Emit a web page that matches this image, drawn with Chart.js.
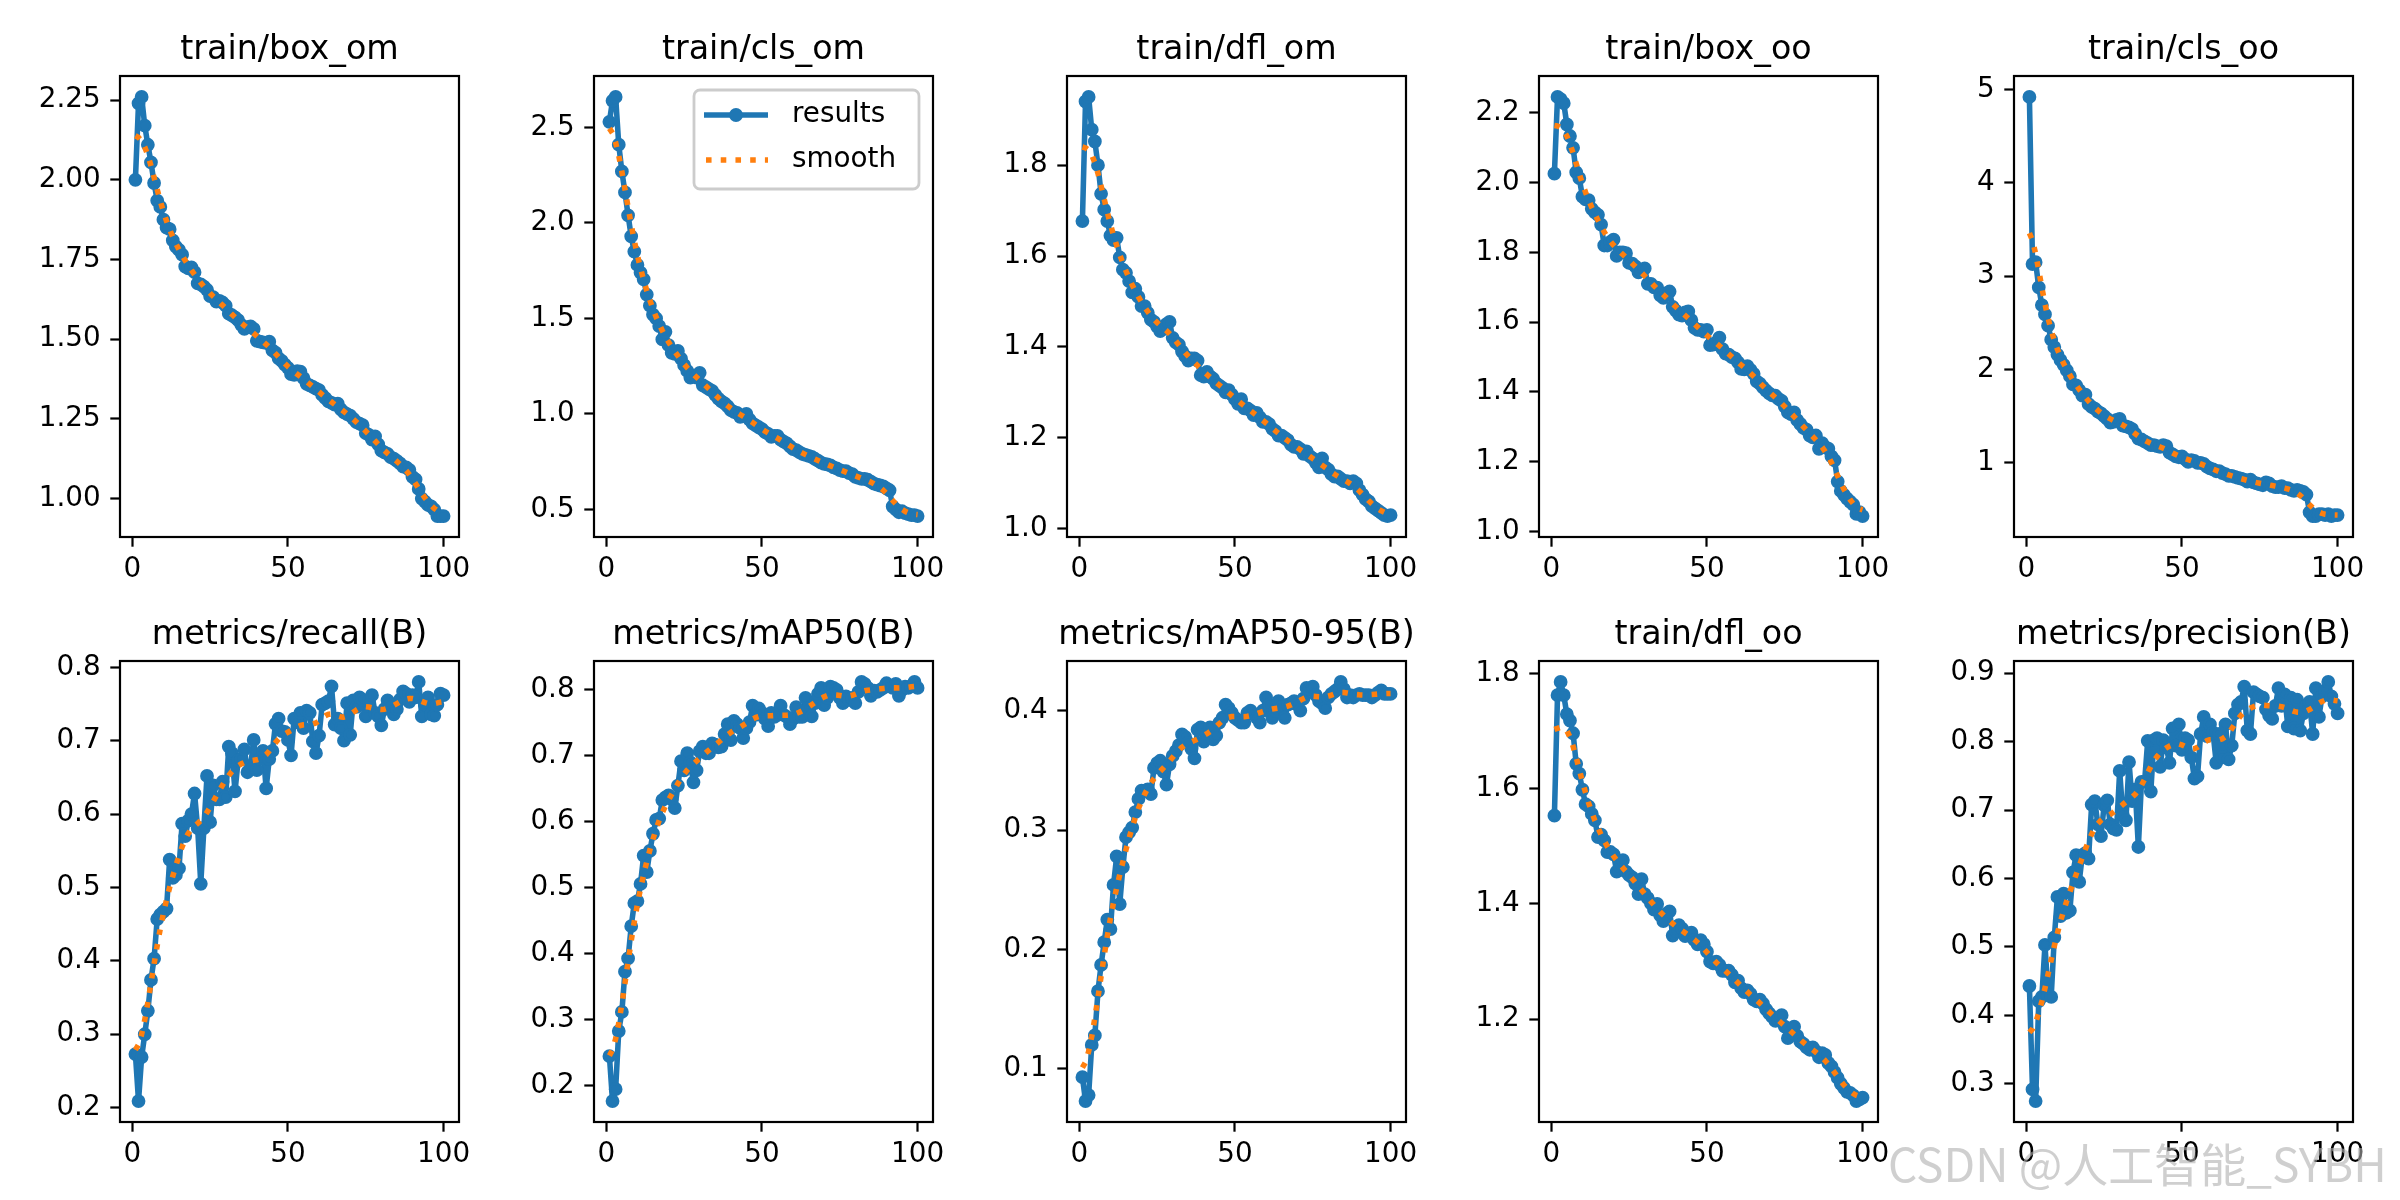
<!DOCTYPE html>
<html>
<head>
<meta charset="utf-8">
<title>results</title>
<script src="https://cdn.jsdelivr.net/npm/chart.js@4.4.0/dist/chart.umd.min.js"></script>
<style>
  html, body { margin: 0; padding: 0; background: #fff; }
  #figure { position: relative; width: 2400px; height: 1200px; overflow: hidden; background: #fff; }
  #figure canvas { position: absolute; }
  #watermark {
    position: absolute; left: 1888px; top: 1139px; z-index: 5;
    font-family: "Noto Sans CJK SC"; font-size: 46px; line-height: 46px;
    color: rgba(175, 175, 175, 0.6); white-space: nowrap;
  }
</style>
</head>
<body>
<div id="figure">
  <div id="watermark">CSDN @人工智能_SYBH</div>
</div>
<script>
// epochs 1..100 shared by every panel
const epochs = Array.from({ length: 100 }, (_, i) => i + 1);
const xTicks = [0, 50, 100];

const boxOm = [2.00, 2.24, 2.26, 2.17, 2.11, 2.055, 1.99, 1.935, 1.915, 1.875,
  1.85, 1.845, 1.81, 1.79, 1.78, 1.765, 1.728, 1.722, 1.725, 1.71,
  1.675, 1.672, 1.665, 1.655, 1.635, 1.632, 1.618, 1.62, 1.615, 1.605,
  1.58, 1.575, 1.568, 1.56, 1.545, 1.532, 1.538, 1.54, 1.532, 1.495,
  1.492, 1.49, 1.488, 1.492, 1.465, 1.458, 1.44, 1.432, 1.42, 1.41,
  1.39, 1.388, 1.40, 1.398, 1.378, 1.36, 1.355, 1.35, 1.345, 1.34,
  1.325, 1.315, 1.305, 1.30, 1.295, 1.298, 1.28, 1.27, 1.265, 1.26,
  1.25, 1.24, 1.235, 1.23, 1.205, 1.20, 1.185, 1.195, 1.17, 1.15,
  1.145, 1.14, 1.13, 1.125, 1.118, 1.11, 1.10, 1.098, 1.09, 1.068,
  1.06, 1.03, 1.00, 0.99, 0.98, 0.975, 0.965, 0.945, 0.945, 0.945];
const boxOmTicks = ['1.00', '1.25', '1.50', '1.75', '2.00', '2.25'];

const clsOm = [2.53, 2.64, 2.66, 2.41, 2.27, 2.16, 2.04, 1.93, 1.85, 1.78,
  1.74, 1.705, 1.625, 1.567, 1.52, 1.50, 1.46, 1.39, 1.43, 1.36,
  1.32, 1.315, 1.33, 1.29, 1.255, 1.225, 1.19, 1.20, 1.19, 1.215,
  1.15, 1.14, 1.13, 1.12, 1.10, 1.08, 1.065, 1.055, 1.04, 1.02,
  1.01, 1.005, 0.985, 0.99, 1.00, 0.97, 0.95, 0.94, 0.93, 0.92,
  0.905, 0.895, 0.88, 0.885, 0.885, 0.865, 0.855, 0.845, 0.83, 0.815,
  0.81, 0.80, 0.79, 0.785, 0.78, 0.775, 0.765, 0.755, 0.745, 0.738,
  0.735, 0.73, 0.72, 0.715, 0.705, 0.70, 0.70, 0.69, 0.685, 0.67,
  0.665, 0.66, 0.66, 0.655, 0.645, 0.635, 0.63, 0.625, 0.62, 0.61,
  0.60, 0.515, 0.50, 0.485, 0.49, 0.48, 0.475, 0.47, 0.47, 0.465];
const clsOmTicks = ['0.5', '1.0', '1.5', '2.0', '2.5'];

const dflOm = [1.677, 1.94, 1.95, 1.878, 1.852, 1.80, 1.737, 1.702, 1.677, 1.645,
  1.635, 1.64, 1.597, 1.57, 1.563, 1.545, 1.52, 1.528, 1.51, 1.49,
  1.49, 1.475, 1.46, 1.455, 1.445, 1.435, 1.44, 1.45, 1.455, 1.42,
  1.41, 1.405, 1.39, 1.38, 1.37, 1.375, 1.375, 1.37, 1.338, 1.335,
  1.345, 1.335, 1.33, 1.32, 1.315, 1.31, 1.30, 1.305, 1.295, 1.285,
  1.275, 1.285, 1.265, 1.265, 1.26, 1.25, 1.255, 1.245, 1.235, 1.235,
  1.23, 1.22, 1.215, 1.205, 1.205, 1.20, 1.195, 1.185, 1.18, 1.18,
  1.175, 1.165, 1.17, 1.16, 1.155, 1.145, 1.135, 1.155, 1.135, 1.13,
  1.12, 1.115, 1.115, 1.11, 1.105, 1.105, 1.10, 1.105, 1.10, 1.085,
  1.075, 1.065, 1.06, 1.05, 1.045, 1.04, 1.035, 1.03, 1.028, 1.03];
const dflOmTicks = ['1.0', '1.2', '1.4', '1.6', '1.8'];

const boxOo = [2.026, 2.246, 2.24, 2.228, 2.167, 2.134, 2.10, 2.03, 2.013, 1.96,
  1.952, 1.95, 1.925, 1.915, 1.908, 1.88, 1.82, 1.82, 1.83, 1.837,
  1.79, 1.80, 1.80, 1.798, 1.77, 1.768, 1.76, 1.743, 1.749, 1.754,
  1.71, 1.71, 1.70, 1.699, 1.677, 1.67, 1.683, 1.688, 1.644, 1.633,
  1.622, 1.619, 1.628, 1.631, 1.606, 1.584, 1.578, 1.578, 1.573, 1.578,
  1.534, 1.536, 1.542, 1.556, 1.523, 1.51, 1.507, 1.50, 1.496, 1.485,
  1.466, 1.465, 1.474, 1.463, 1.452, 1.43, 1.424, 1.413, 1.404, 1.396,
  1.39, 1.389, 1.38, 1.374, 1.358, 1.341, 1.336, 1.341, 1.319, 1.308,
  1.297, 1.292, 1.275, 1.27, 1.275, 1.237, 1.253, 1.242, 1.237, 1.215,
  1.204, 1.143, 1.116, 1.105, 1.094, 1.085, 1.077, 1.05, 1.055, 1.044];
const boxOoTicks = ['1.0', '1.2', '1.4', '1.6', '1.8', '2.0', '2.2'];

const clsOo = [4.92, 3.13, 3.15, 2.88, 2.69, 2.59, 2.47, 2.32, 2.24, 2.16,
  2.10, 2.05, 1.99, 1.93, 1.84, 1.83, 1.78, 1.72, 1.73, 1.63,
  1.60, 1.58, 1.55, 1.53, 1.50, 1.47, 1.43, 1.44, 1.46, 1.47,
  1.40, 1.39, 1.38, 1.36, 1.31, 1.26, 1.25, 1.23, 1.21, 1.19,
  1.19, 1.18, 1.17, 1.19, 1.18, 1.11, 1.09, 1.07, 1.06, 1.07,
  1.04, 1.01, 1.03, 1.02, 1.00, 1.00, 0.99, 0.96, 0.94, 0.93,
  0.91, 0.91, 0.89, 0.88, 0.86, 0.86, 0.85, 0.84, 0.83, 0.82,
  0.80, 0.82, 0.79, 0.78, 0.77, 0.76, 0.79, 0.78, 0.75, 0.74,
  0.74, 0.75, 0.73, 0.73, 0.71, 0.70, 0.71, 0.70, 0.69, 0.66,
  0.47, 0.43, 0.43, 0.45, 0.45, 0.44, 0.45, 0.43, 0.44, 0.44];
const clsOoTicks = ['1', '2', '3', '4', '5'];

const recall = [0.273, 0.209, 0.269, 0.30, 0.332, 0.374, 0.403, 0.457, 0.463, 0.467,
  0.471, 0.538, 0.513, 0.517, 0.526, 0.587, 0.57, 0.591, 0.60, 0.628,
  0.581, 0.505, 0.581, 0.652, 0.589, 0.639, 0.62, 0.62, 0.644, 0.623,
  0.692, 0.683, 0.631, 0.673, 0.675, 0.688, 0.657, 0.665, 0.701, 0.66,
  0.675, 0.686, 0.635, 0.675, 0.686, 0.723, 0.73, 0.713, 0.712, 0.701,
  0.68, 0.73, 0.725, 0.738, 0.717, 0.741, 0.738, 0.699, 0.683, 0.707,
  0.749, 0.751, 0.754, 0.774, 0.722, 0.73, 0.717, 0.70, 0.751, 0.708,
  0.755, 0.746, 0.759, 0.756, 0.733, 0.754, 0.762, 0.738, 0.733, 0.721,
  0.743, 0.755, 0.749, 0.736, 0.743, 0.756, 0.767, 0.764, 0.753, 0.762,
  0.759, 0.78, 0.733, 0.749, 0.759, 0.736, 0.734, 0.749, 0.764, 0.762];
const recallTicks = ['0.2', '0.3', '0.4', '0.5', '0.6', '0.7', '0.8'];

const map50 = [0.245, 0.177, 0.195, 0.283, 0.312, 0.373, 0.393, 0.442, 0.477, 0.48,
  0.506, 0.549, 0.524, 0.556, 0.582, 0.603, 0.605, 0.633, 0.637, 0.64,
  0.634, 0.621, 0.655, 0.692, 0.678, 0.704, 0.69, 0.66, 0.678, 0.707,
  0.714, 0.704, 0.704, 0.719, 0.717, 0.713, 0.714, 0.733, 0.748, 0.724,
  0.753, 0.748, 0.742, 0.727, 0.742, 0.751, 0.776, 0.762, 0.772, 0.765,
  0.756, 0.745, 0.765, 0.759, 0.762, 0.776, 0.762, 0.759, 0.748, 0.756,
  0.774, 0.759, 0.759, 0.788, 0.772, 0.76, 0.78, 0.794, 0.803, 0.777,
  0.788, 0.805, 0.803, 0.80, 0.788, 0.78, 0.79, 0.785, 0.788, 0.78,
  0.797, 0.812, 0.809, 0.803, 0.791, 0.799, 0.797, 0.80, 0.803, 0.81,
  0.806, 0.803, 0.809, 0.791, 0.80, 0.805, 0.803, 0.806, 0.812, 0.803];
const map50Ticks = ['0.2', '0.3', '0.4', '0.5', '0.6', '0.7', '0.8'];

const map5095 = [0.093, 0.073, 0.078, 0.12, 0.128, 0.165, 0.187, 0.206, 0.225, 0.217,
  0.254, 0.278, 0.238, 0.269, 0.294, 0.298, 0.302, 0.315, 0.326, 0.333,
  0.333, 0.334, 0.33, 0.352, 0.356, 0.358, 0.349, 0.338, 0.355, 0.362,
  0.366, 0.371, 0.38, 0.378, 0.373, 0.368, 0.36, 0.384, 0.386, 0.374,
  0.381, 0.386, 0.376, 0.379, 0.39, 0.394, 0.405, 0.402, 0.398, 0.394,
  0.392, 0.39, 0.39, 0.398, 0.40, 0.397, 0.394, 0.39, 0.40, 0.411,
  0.405, 0.394, 0.40, 0.408, 0.403, 0.394, 0.405, 0.406, 0.408, 0.405,
  0.40, 0.41, 0.419, 0.418, 0.42, 0.413, 0.408, 0.406, 0.402, 0.411,
  0.414, 0.416, 0.418, 0.424, 0.418, 0.411, 0.413, 0.411, 0.413, 0.414,
  0.413, 0.413, 0.413, 0.411, 0.413, 0.415, 0.417, 0.414, 0.414, 0.414];
const map5095Ticks = ['0.1', '0.2', '0.3', '0.4'];

const dflOo = [1.553, 1.762, 1.785, 1.762, 1.729, 1.718, 1.696, 1.643, 1.626, 1.598,
  1.573, 1.569, 1.556, 1.545, 1.516, 1.52, 1.51, 1.49, 1.49, 1.486,
  1.456, 1.466, 1.476, 1.456, 1.45, 1.446, 1.435, 1.417, 1.443, 1.417,
  1.41, 1.401, 1.39, 1.40, 1.38, 1.37, 1.383, 1.387, 1.345, 1.353,
  1.363, 1.357, 1.344, 1.347, 1.35, 1.337, 1.33, 1.337, 1.33, 1.317,
  1.30, 1.297, 1.30, 1.294, 1.284, 1.284, 1.284, 1.277, 1.264, 1.267,
  1.254, 1.247, 1.25, 1.244, 1.234, 1.231, 1.234, 1.227, 1.217, 1.21,
  1.204, 1.197, 1.20, 1.207, 1.187, 1.167, 1.177, 1.187, 1.171, 1.161,
  1.157, 1.151, 1.147, 1.151, 1.144, 1.134, 1.141, 1.138, 1.124, 1.118,
  1.108, 1.098, 1.088, 1.081, 1.074, 1.072, 1.068, 1.058, 1.061, 1.064];
const dflOoTicks = ['1.2', '1.4', '1.6', '1.8'];

const precision = [0.443, 0.292, 0.275, 0.421, 0.427, 0.503, 0.43, 0.427, 0.514, 0.573,
  0.545, 0.578, 0.55, 0.553, 0.609, 0.634, 0.595, 0.634, 0.637, 0.629,
  0.708, 0.713, 0.679, 0.662, 0.707, 0.714, 0.679, 0.673, 0.671, 0.757,
  0.693, 0.685, 0.77, 0.713, 0.73, 0.646, 0.741, 0.741, 0.801, 0.727,
  0.802, 0.805, 0.763, 0.802, 0.791, 0.769, 0.819, 0.794, 0.825, 0.788,
  0.805, 0.802, 0.777, 0.746, 0.749, 0.811, 0.836, 0.808, 0.825, 0.813,
  0.769, 0.811, 0.777, 0.825, 0.774, 0.794, 0.841, 0.854, 0.858, 0.88,
  0.816, 0.811, 0.872, 0.869, 0.866, 0.864, 0.847, 0.838, 0.833, 0.852,
  0.878, 0.852, 0.869, 0.822, 0.864, 0.819, 0.861, 0.816, 0.841, 0.852,
  0.858, 0.811, 0.878, 0.836, 0.866, 0.874, 0.887, 0.866, 0.855, 0.841];
const precisionTicks = ['0.3', '0.4', '0.5', '0.6', '0.7', '0.8', '0.9'];

// panel order, left to right, top row first
const panels = [
  { title: 'train/box_om', values: boxOm, ticks: boxOmTicks },
  { title: 'train/cls_om', values: clsOm, ticks: clsOmTicks, legend: true },
  { title: 'train/dfl_om', values: dflOm, ticks: dflOmTicks },
  { title: 'train/box_oo', values: boxOo, ticks: boxOoTicks },
  { title: 'train/cls_oo', values: clsOo, ticks: clsOoTicks },
  { title: 'metrics/recall(B)', values: recall, ticks: recallTicks },
  { title: 'metrics/mAP50(B)', values: map50, ticks: map50Ticks },
  { title: 'metrics/mAP50-95(B)', values: map5095, ticks: map5095Ticks },
  { title: 'train/dfl_oo', values: dflOo, ticks: dflOoTicks },
  { title: 'metrics/precision(B)', values: precision, ticks: precisionTicks }
];

// layout (px) for the 2400x1200 figure
const COL_LEFT = [120, 594, 1067, 1539, 2014];
const ROW_TOP = [76, 661];
const AX_W = 339, AX_H = 461;
const Y_AXIS_W = 110, X_AXIS_H = 60, TOP_PAD = 60, RIGHT_PAD = 40;

const BLUE = '#1f77b4';
const ORANGE = '#ff7f0e';
const LW = 5.56;            // 2pt at 200 dpi
const SPINE_W = 2.2;
const FONT = 'DejaVu Sans';
const TICK_FONT = { family: FONT, size: 27.8 };

// same smoothing the training plot uses: gaussian, sigma 3, reflected edges
function gaussianSmooth(values, sigma) {
  const radius = Math.round(4 * sigma);
  const weights = [];
  let sum = 0;
  for (let k = -radius; k <= radius; k++) {
    const w = Math.exp(-0.5 * (k / sigma) * (k / sigma));
    weights.push(w);
    sum += w;
  }
  const n = values.length;
  return values.map((_, i) => {
    let acc = 0;
    for (let k = -radius; k <= radius; k++) {
      let j = i + k;
      if (j < 0) j = -j - 1;
      if (j >= n) j = 2 * n - j - 1;
      acc += values[j] * weights[k + radius];
    }
    return acc / sum;
  });
}

function drawLegend(ctx, a) {
  const w = 225, h = 99;
  const x = a.right - 14 - w, y = a.top + 14;
  const r = 6;
  ctx.beginPath();
  ctx.moveTo(x + r, y);
  ctx.arcTo(x + w, y, x + w, y + h, r);
  ctx.arcTo(x + w, y + h, x, y + h, r);
  ctx.arcTo(x, y + h, x, y, r);
  ctx.arcTo(x, y, x + w, y, r);
  ctx.closePath();
  ctx.fillStyle = 'rgba(255,255,255,0.8)';
  ctx.fill();
  ctx.lineWidth = 2.8;
  ctx.strokeStyle = '#cccccc';
  ctx.stroke();

  const hx0 = x + 10, hx1 = x + 74;
  const row1 = y + 25, row2 = y + 70;
  // results handle
  ctx.setLineDash([]);
  ctx.lineCap = 'butt';
  ctx.strokeStyle = BLUE;
  ctx.lineWidth = LW;
  ctx.beginPath();
  ctx.moveTo(hx0, row1);
  ctx.lineTo(hx1, row1);
  ctx.stroke();
  ctx.fillStyle = BLUE;
  ctx.beginPath();
  ctx.arc((hx0 + hx1) / 2, row1, 6.9, 0, Math.PI * 2);
  ctx.fill();
  // smooth handle
  ctx.strokeStyle = ORANGE;
  ctx.setLineDash([5.56, 9.17]);
  ctx.beginPath();
  ctx.moveTo(hx0 + 2, row2);
  ctx.lineTo(hx1, row2);
  ctx.stroke();
  ctx.setLineDash([]);

  ctx.fillStyle = '#000';
  ctx.font = '27.8px "' + FONT + '"';
  ctx.textAlign = 'left';
  ctx.textBaseline = 'middle';
  ctx.fillText('results', x + 98, row1);
  ctx.fillText('smooth', x + 98, row2);
}

const panelFrame = {
  id: 'panelFrame',
  afterDraw(chart, args, opts) {
    const ctx = chart.ctx;
    const a = chart.chartArea;
    ctx.save();
    ctx.strokeStyle = '#000';
    ctx.lineWidth = SPINE_W;
    ctx.strokeRect(a.left, a.top, a.right - a.left, a.bottom - a.top);
    ctx.fillStyle = '#000';
    ctx.font = '33.3px "' + FONT + '"';
    ctx.textAlign = 'center';
    ctx.textBaseline = 'alphabetic';
    ctx.fillText(opts.title, (a.left + a.right) / 2, a.top - 16.7);
    if (opts.legend) drawLegend(ctx, a);
    ctx.restore();
  }
};

const fig = document.getElementById('figure');
const xSpan = epochs[epochs.length - 1] - epochs[0];
const xMin = epochs[0] - 0.05 * xSpan;
const xMax = epochs[epochs.length - 1] + 0.05 * xSpan;

panels.forEach((p, idx) => {
  const col = idx % 5, row = Math.floor(idx / 5);
  const w = Y_AXIS_W + AX_W + RIGHT_PAD;
  const h = TOP_PAD + AX_H + X_AXIS_H;
  const canvas = document.createElement('canvas');
  canvas.width = w;
  canvas.height = h;
  canvas.style.width = w + 'px';
  canvas.style.height = h + 'px';
  canvas.style.left = (COL_LEFT[col] - Y_AXIS_W) + 'px';
  canvas.style.top = (ROW_TOP[row] - TOP_PAD) + 'px';
  fig.insertBefore(canvas, fig.firstChild);

  const lo = Math.min(...p.values), hi = Math.max(...p.values);
  const pad = (hi - lo) * 0.05;
  const smooth = gaussianSmooth(p.values, 3);
  const tickValues = p.ticks.map(Number);

  const axisCommon = {
    type: 'linear',
    bounds: 'data',
    border: { display: false },
    grid: { display: true, drawOnChartArea: false, drawTicks: true, tickLength: 9.7, tickWidth: SPINE_W, tickColor: '#000' }
  };

  new Chart(canvas, {
    type: 'line',
    data: {
      datasets: [
        {
          label: 'results',
          data: epochs.map((e, i) => ({ x: e, y: p.values[i] })),
          borderColor: BLUE,
          backgroundColor: BLUE,
          borderWidth: LW,
          borderJoinStyle: 'round',
          borderCapStyle: 'round',
          pointRadius: 5.5,
          pointBorderWidth: 2.8,
          pointBackgroundColor: BLUE,
          pointBorderColor: BLUE,
          tension: 0,
          order: 1
        },
        {
          label: 'smooth',
          data: epochs.map((e, i) => ({ x: e, y: smooth[i] })),
          borderColor: ORANGE,
          borderWidth: LW,
          borderDash: [5.56, 9.17],
          borderCapStyle: 'butt',
          borderJoinStyle: 'round',
          pointRadius: 0,
          tension: 0,
          order: 0
        }
      ]
    },
    options: {
      responsive: false,
      animation: false,
      devicePixelRatio: 1,
      events: [],
      layout: { padding: { top: TOP_PAD, right: RIGHT_PAD, left: 0, bottom: 0 } },
      scales: {
        x: Object.assign({}, axisCommon, {
          min: xMin,
          max: xMax,
          afterBuildTicks: s => { s.ticks = xTicks.map(v => ({ value: v })); },
          afterFit: s => { s.height = X_AXIS_H; },
          ticks: { color: '#000', font: TICK_FONT, padding: 6, maxRotation: 0, autoSkip: false, callback: v => String(v) }
        }),
        y: Object.assign({}, axisCommon, {
          min: lo - pad,
          max: hi + pad,
          afterBuildTicks: s => { s.ticks = tickValues.map(v => ({ value: v })); },
          afterFit: s => { s.width = Y_AXIS_W; },
          ticks: { color: '#000', font: TICK_FONT, padding: 9.7, autoSkip: false, callback: (v, i) => p.ticks[i] }
        })
      },
      plugins: {
        legend: { display: false },
        tooltip: { enabled: false },
        panelFrame: { title: p.title, legend: !!p.legend }
      }
    },
    plugins: [panelFrame]
  });
});
</script>
</body>
</html>
